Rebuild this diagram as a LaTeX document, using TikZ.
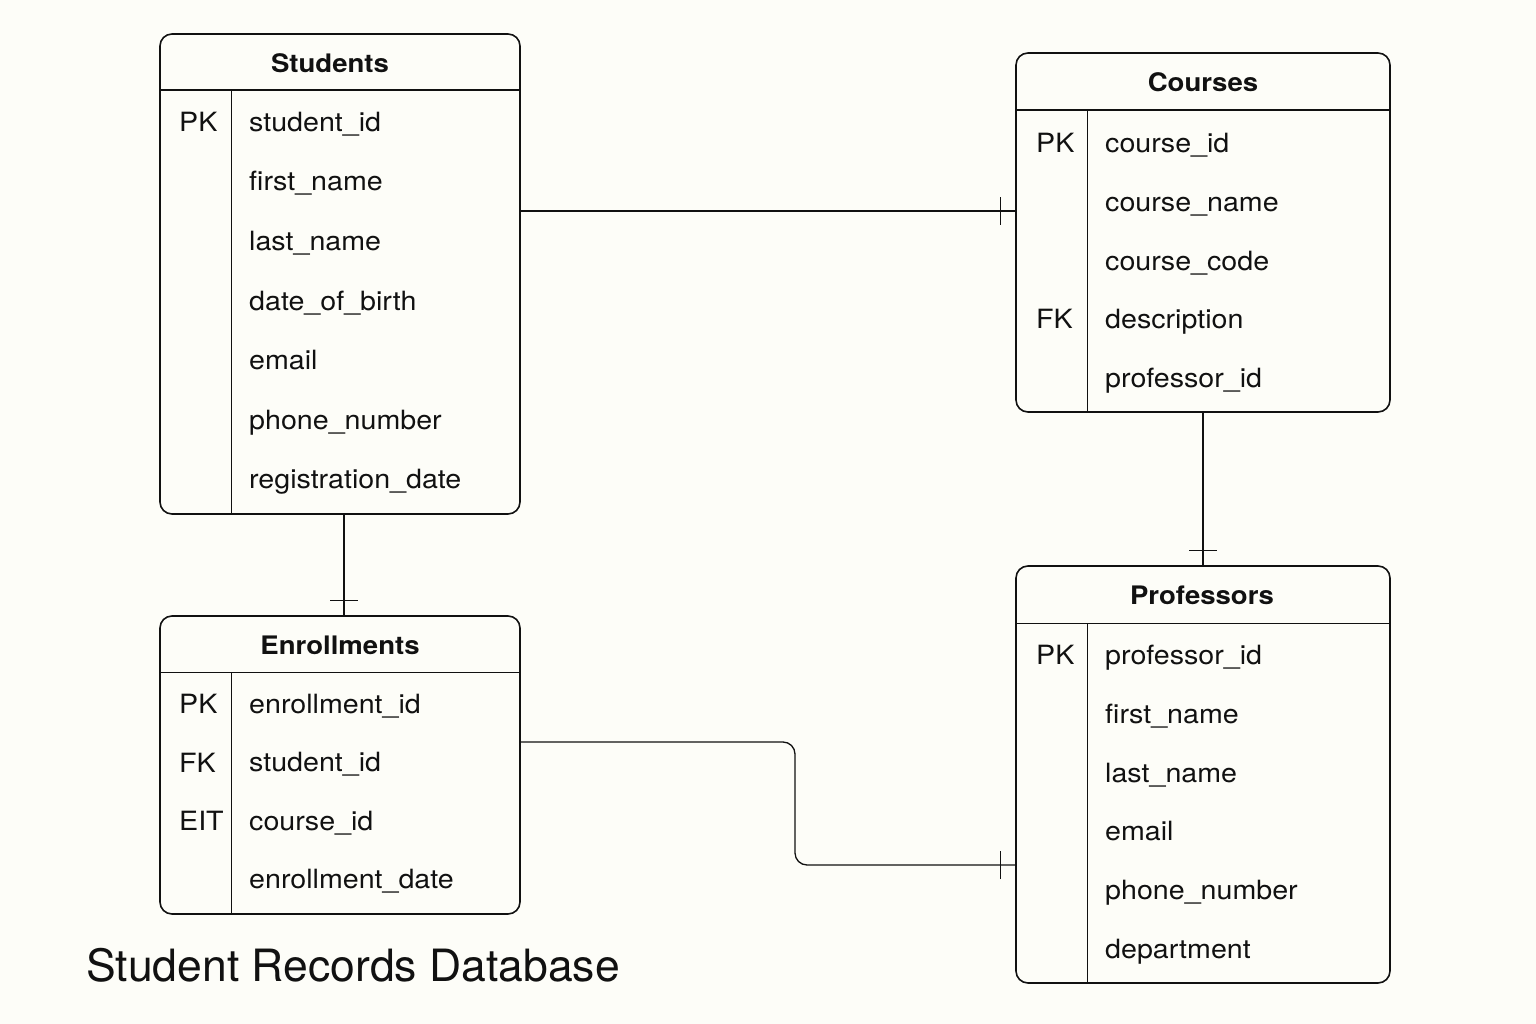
\documentclass[tikz,border=0pt]{standalone}
\usepackage{fontspec}
\setmainfont{TeX Gyre Heros}[FakeStretch=1.08]
\newfontfamily\titlefont{TeX Gyre Heros}
\usetikzlibrary{positioning,decorations.markings}
\definecolor{paper}{HTML}{FDFDF8}
\definecolor{ink}{HTML}{111111}

\begin{document}
\begin{tikzpicture}[x=1pt,y=-1pt]
        \tikzstyle{table}=[draw=ink,line width=1.6pt,rounded corners=12pt,inner sep=0pt]
        \tikzstyle{rule}=[draw=ink,line width=1.4pt]
        \tikzstyle{head}=[font=\bfseries\fontsize{25.5}{30}\selectfont,text=ink,text height=18.3pt,text depth=0pt,inner sep=0pt]
        \tikzstyle{field}=[anchor=west,font=\fontsize{26.5}{30}\selectfont,text=ink,text height=19pt,text depth=0pt,inner sep=0pt]
        \tikzstyle{link}=[draw=ink,line width=1.3pt]
        \tikzstyle{onebar}=[postaction={decorate},decoration={markings,
          mark=at position -15pt with {\draw[line width=1.3pt] (0,-14pt) -- (0,14pt);}}]

        \fill[paper] (0,0) rectangle (1536,1024);
        \useasboundingbox (0,0) rectangle (1536,1024);

        % Students
        \node[table,minimum width=360pt,minimum height=480pt](students) at (340,274){};
        \draw[rule] (students.north west) ++(0,57) -- ++(360,0);
        \draw[rule] ([xshift=72pt]students.north west) ++(0,57) -- ([xshift=72pt]students.south west);
        \node[head](t1) at (330,63){Students};
        \node[field](s0) at (179,122){PK};
        \foreach \f [count=\i] in {student\_id,first\_name,last\_name,date\_of\_birth,email,phone\_number,registration\_date}
          \node[field](s\i) at (249,{122+59.5*(\i-1)}){\f};

        % Courses
        \node[table,minimum width=374pt,minimum height=359pt](courses) at (1203,232.5){};
        \draw[rule] (courses.north west) ++(0,58) -- ++(374,0);
        \draw[rule] ([xshift=72pt]courses.north west) ++(0,58) -- ([xshift=72pt]courses.south west);
        \node[head](t2) at (1203,82){Courses};
        \node[field](c0) at (1036,143){PK};
        \node[field](c00) at (1036,319){FK};
        \foreach \f [count=\i] in {course\_id,course\_name,course\_code,description,professor\_id}
          \node[field](c\i) at (1105,{143+58.8*(\i-1)}){\f};

        % Enrollments
        \node[table,minimum width=360pt,minimum height=298pt](enrollments) at (340,765){};
        \draw[rule] (enrollments.north west) ++(0,57) -- ++(360,0);
        \draw[rule] ([xshift=72pt]enrollments.north west) ++(0,57) -- ([xshift=72pt]enrollments.south west);
        \node[head](t3) at (340,645){Enrollments};
        \node[field](e0) at (179,704){PK};
        \node[field](e00) at (179,763){FK};
        \node[field](e000) at (179,821){EIT};
        \foreach \f [count=\i] in {enrollment\_id,student\_id,course\_id,enrollment\_date}
          \node[field](e\i) at (249,{704+58.4*(\i-1)}){\f};

        % Professors
        \node[table,minimum width=374pt,minimum height=417pt](professors) at (1203,774.5){};
        \draw[rule] (professors.north west) ++(0,58) -- ++(374,0);
        \draw[rule] ([xshift=72pt]professors.north west) ++(0,58) -- ([xshift=72pt]professors.south west);
        \node[head](t4) at (1202,595){Professors};
        \node[field](p0) at (1036,655){PK};
        \foreach \f [count=\i] in {professor\_id,first\_name,last\_name,email,phone\_number,department}
          \node[field](p\i) at (1105,{655+58.8*(\i-1)}){\f};

        % relations
        \draw[link,onebar] ([yshift=63pt]students.east) -- ([yshift=21.5pt]courses.west);
        \draw[link,onebar] ([xshift=4pt]students.south) -- ([xshift=4pt]enrollments.north);
        \draw[link,onebar] (courses.south) -- (professors.north);
        \draw[link,onebar,rounded corners=12pt] ([yshift=23pt]enrollments.east) -| (795,800) |- ([yshift=-90.5pt]professors.west);

        \node[anchor=west,inner sep=0pt,font=\titlefont\fontsize{44.5}{52}\selectfont,text=ink,text height=32pt,text depth=0pt](heading) at (86,965){Student Records Database};
\end{tikzpicture}
\end{document}
